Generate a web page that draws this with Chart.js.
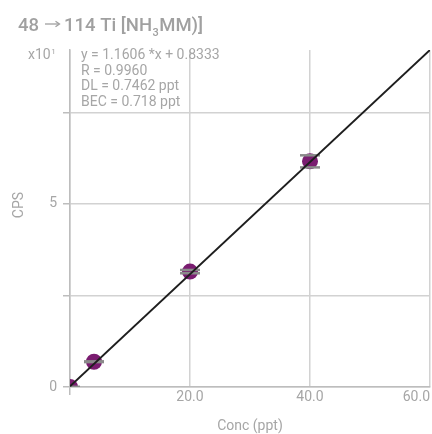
<!DOCTYPE html>
<html><head><meta charset="utf-8">
<script src="https://cdn.jsdelivr.net/npm/chart.js@4/dist/chart.umd.min.js"></script>
<style>html,body{margin:0;padding:0;background:#fff;overflow:hidden}canvas{display:block}</style>
</head><body><canvas id="c" width="432" height="434" style="width:432px;height:434px"></canvas>
<script>
const concentrations = [0, 4, 20, 40];
const cpsValues = [0.0, 0.69, 3.15, 6.16];
const cpsErrors = [0, 0.01, 0.045, 0.165];
const fitLineX = [0, 60];
const fitLineY = [0.02, 9.2];
const xTicks = [0, 20, 40, 60];
const yTicks = [0, 2.5, 5, 7.5];
const titleParts = ['48', '\u2192', '114 Ti [NH', '3', 'MM)]'];
const statsLines = ['y = 1.1606 *x + 0.8333', 'R = 0.9960', 'DL = 0.7462 ppt', 'BEC = 0.718 ppt'];
const yExponent = ['x10', '1'];
const xTitle = 'Conc (ppt)';
const yTitle = 'CPS';

const TEXT = '#a6a6a6';
const GRID = '#d2d2d2';
const AXIS = '#bdbdbd';
Chart.defaults.font.family = 'Roboto';
Chart.defaults.font.size = 14;
Chart.defaults.color = TEXT;

const deco = {
  id: 'deco',
  afterDatasetDraw(chart, args) {
    if (args.index !== 0) return;
    const {ctx, chartArea: a, scales: {x, y}} = chart;
    ctx.save();
    ctx.beginPath(); ctx.rect(a.left, a.top, a.right - a.left, a.bottom - a.top); ctx.clip();
    ctx.strokeStyle = '#8a8a8a'; ctx.lineWidth = 2.5;
    concentrations.forEach((c, i) => {
      const px = x.getPixelForValue(c);
      [cpsValues[i] - cpsErrors[i], cpsValues[i] + cpsErrors[i]].forEach(v => {
        const py = y.getPixelForValue(v);
        ctx.beginPath(); ctx.moveTo(px - 10, py); ctx.lineTo(px + 10, py); ctx.stroke();
      });
    });
    ctx.restore();
  },
  afterDraw(chart) {
    const {ctx} = chart;
    ctx.save();
    // title
    ctx.fillStyle = '#a0a0a0';
    ctx.textBaseline = 'alphabetic';
    const big = '500 18.5px Roboto';
    ctx.font = big;
    ctx.fillText(titleParts[0], 18, 31);
    // arrow
    ctx.strokeStyle = '#a0a0a0'; ctx.lineWidth = 1.3;
    ctx.beginPath(); ctx.moveTo(45, 24); ctx.lineTo(59, 24); ctx.stroke();
    ctx.beginPath(); ctx.moveTo(55.5, 21.2); ctx.lineTo(59.5, 24); ctx.lineTo(55.5, 26.8); ctx.stroke();
    let tx = 64;
    ctx.fillText(titleParts[2], tx, 31); tx += ctx.measureText(titleParts[2]).width + 0.5;
    ctx.font = '500 11px Roboto';
    ctx.fillText(titleParts[3], tx, 36); tx += ctx.measureText(titleParts[3]).width + 0.5;
    ctx.font = big;
    ctx.fillText(titleParts[4], tx, 31);
    // stats
    ctx.fillStyle = TEXT;
    ctx.font = '14px Roboto';
    statsLines.forEach((s, i) => ctx.fillText(s, 81, 59 + i * 15.5));
    // exponent
    ctx.fillText(yExponent[0], 28, 59);
    const w = ctx.measureText(yExponent[0]).width;
    ctx.font = '8px Roboto';
    ctx.fillText(yExponent[1], 28 + w + 0.5, 54);
    // y title
    ctx.font = '14px Roboto';
    ctx.translate(19, 205); ctx.rotate(-Math.PI / 2);
    ctx.textAlign = 'center'; ctx.textBaseline = 'middle';
    ctx.fillText(yTitle, 0, 0);
    ctx.restore();
  }
};

new Chart(document.getElementById('c'), {
  type: 'scatter',
  data: {
    datasets: [
      {
        data: concentrations.map((c, i) => ({x: c, y: cpsValues[i]})),
        backgroundColor: '#7a1c70', borderColor: '#7a1c70', pointRadius: 8, pointBorderWidth: 0,
        clip: 0, order: 1
      },
      {
        type: 'line',
        data: fitLineX.map((c, i) => ({x: c, y: fitLineY[i]})),
        borderColor: '#1e1e1e', borderWidth: 2, pointRadius: 0, fill: false, clip: 0, order: 0
      }
    ]
  },
  options: {
    responsive: false, animation: false, devicePixelRatio: 1,
    layout: {autoPadding: false, padding: {top: 50, right: 2, left: 0, bottom: 0}},
    plugins: {legend: {display: false}, tooltip: {enabled: false}},
    scales: {
      x: {
        type: 'linear', min: 0, max: 60,
        afterBuildTicks: s => { s.ticks = xTicks.map(v => ({value: v})); },
        afterFit: s => { s.height = 47; },
        ticks: {align: 'inner', padding: -6, maxRotation: 0, callback: v => v === 0 ? '' : Number(v).toFixed(1)},
        grid: {color: GRID, lineWidth: 1.5, tickLength: 8, tickColor: c => c.tick && c.tick.value === 0 ? AXIS : 'rgba(0,0,0,0)'},
        border: {color: AXIS, width: 1.5},
        title: {display: true, text: xTitle, padding: {top: 0, bottom: -1}, font: {size: 14}}
      },
      y: {
        type: 'linear', min: 0, max: 9.2,
        afterBuildTicks: s => { s.ticks = yTicks.map(v => ({value: v})); },
        afterFit: s => { s.width = 70; },
        ticks: {padding: 6, callback: v => (v % 5 === 0 ? String(v) : '')},
        grid: {color: GRID, lineWidth: 1.5, tickLength: 7, tickColor: AXIS},
        border: {color: AXIS, width: 1.5}
      }
    }
  },
  plugins: [deco]
});
</script>
</body></html>
